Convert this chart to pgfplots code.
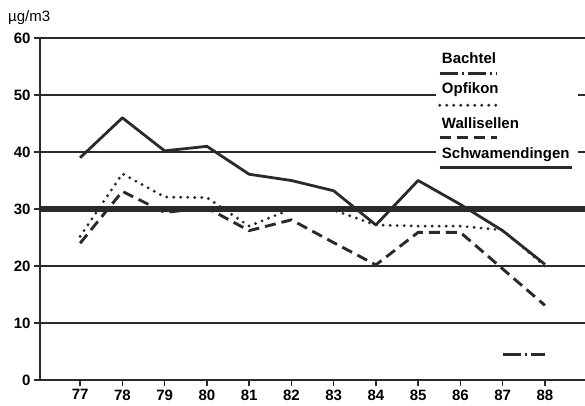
\documentclass[border=0pt]{standalone}
\usepackage{fontspec}
\setmainfont{Liberation Sans}
\usepackage{pgfplots}
\pgfplotsset{compat=1.18}
\definecolor{ink}{HTML}{2A2A2A}
\tikzset{
  schw/.style={ink, line width=2.8pt, line join=round},
  opf/.style={ink, line width=3.2pt, line cap=round, dash pattern=on 0pt off 7pt},
  wall/.style={ink, line width=2.9pt, dash pattern=on 11pt off 6pt},
  bach/.style={ink, line width=2.4pt, dash pattern=on 18pt off 4pt on 2pt off 4pt},
  lab/.style={font=\fontsize{15}{15}\selectfont\bfseries, inner sep=0pt, anchor=west},
}
\begin{document}
\begin{tikzpicture}
\begin{axis}[
    scale only axis, width=545pt, height=342pt,
    xmin=76.05, xmax=88.95, ymin=0, ymax=60,
    axis x line=bottom, axis y line=left,
    axis line style={-, ink, line width=1.5pt},
    xtick={77,...,88}, ytick={0,10,...,60},
    ymajorgrids, grid style={ink, line width=1.5pt},
    tick align=outside, major tick length=6pt,
    tick style={ink, line width=1.3pt},
    /pgf/number format/assume math mode=true,
    ticklabel style={font=\fontsize{15}{15}\selectfont\bfseries},
]
    % limit value 30
    \addplot[ink, line width=6pt] coordinates {(76.05,30) (88.95,30)};

    % Schwamendingen
    \addplot[schw] coordinates {
        (77,39) (78,46) (79,40.2) (80,41) (81,36.1) (82,35)
        (83,33.2) (84,27.2) (85,35) (86,30.8) (87,26.2) (88,20.3)
    };
    % Opfikon
    \addplot[opf] coordinates {
        (77,25.2) (78,36.2) (79,32.1) (80,32) (81,27) (82,30)
        (83,29.8) (84,27.2) (85,27) (86,27) (87,26.3) (88,20)
    };
    % Wallisellen
    \addplot[wall] coordinates {
        (77,24) (78,33.1) (79,29.4) (80,30.2) (81,26.2) (82,28.1)
        (83,24.1) (84,20.2) (85,25.9) (86,25.9) (87,19.5) (88,13.1)
    };
    % Bachtel
    \addplot[bach] coordinates {(87,4.5) (88,4.5)};

    % legend
    \fill[white] (axis cs:85.42,58.6) rectangle (axis cs:88.78,35.8);
    \node[lab] at (axis cs:85.56,56.4) {Bachtel};
    \draw[bach] (axis cs:85.51,53.8) -- (axis cs:86.86,53.8);
    \node[lab] at (axis cs:85.56,50.9) {Opfikon};
    \draw[opf] (axis cs:85.51,48.2) -- (axis cs:86.86,48.2);
    \node[lab] at (axis cs:85.56,45.1) {Wallisellen};
    \draw[wall] (axis cs:85.51,42.5) -- (axis cs:86.86,42.5);
    \node[lab] at (axis cs:85.56,39.6) {Schwamendingen};
    \draw[ink, line width=3pt] (axis cs:85.51,37.3) -- (axis cs:88.65,37.3);
\end{axis}
\node[anchor=west, inner sep=0pt, font=\fontsize{15}{15}\selectfont] at (-32pt,362pt) {µg/m3};
\pgfresetboundingbox
\path (-40pt,-25pt) rectangle (545pt,380pt);
\end{tikzpicture}
\end{document}
